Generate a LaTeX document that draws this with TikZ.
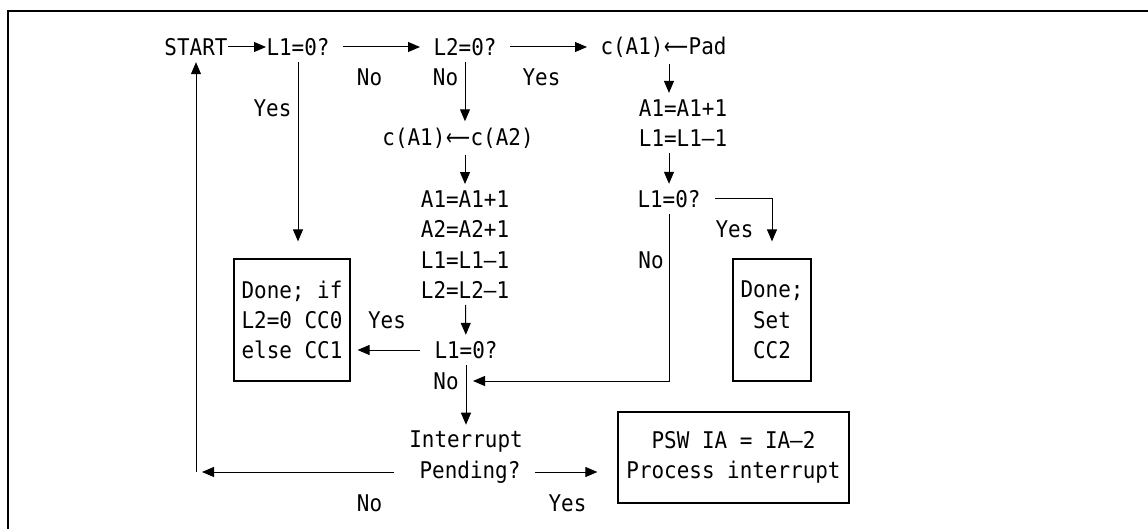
\documentclass[tikz,border=0pt]{standalone}
\usepackage{fontspec}
\usepackage{graphicx}
\usepackage{tikz}
\usetikzlibrary{arrows.meta}
\newfontfamily\flowmono[FakeStretch=0.91]{DejaVu Sans Mono}
\newfontfamily\flowsans{DejaVu Sans}
\newcommand\larr{\makebox[25.2pt][c]{\resizebox{24pt}{\height}{\flowsans ⟵}}}

\begin{document}
\begin{tikzpicture}[x=1pt,y=-1pt,>={Triangle[length=12pt,width=10pt]},
  font=\flowmono\fontsize{23}{30.4}\selectfont,line width=1pt,
  txt/.style={inner xsep=0pt,inner ysep=6pt},
  lbl/.style={inner sep=0pt},
  box/.style={draw,line width=1.2pt,inner sep=0pt,align=center},
  gap/.style={shorten <=13pt,shorten >=13pt}]
\useasboundingbox (0,0) rectangle (1148,529);
% frame, cut at right and bottom
\draw[line width=2pt] (7.5,529)--(7.5,11)--(1148,11);
% steps
\node[txt] (start) at (196,47) {START};
\node[txt] (l1a) at (298,47) {L1=0?};
\node[txt] (l2a) at (465,47) {L2=0?};
\node[txt,anchor=west] (pad) at (600,47) {c(A1)\larr Pad};
\node[txt] (cpy) at (458,138) {c(A1)\larr c(A2)};
\node[txt,align=left] (incb) at (465,244.5) {A1=A1+1\\A2=A2+1\\L1=L1–1\\L2=L2–1};
\node[txt] (l1b) at (466,350) {L1=0?};
\node[txt,align=left] (inca) at (683,123) {A1=A1+1\\L1=L1–1};
\node[txt] (l1c) at (669,199) {L1=0?};
\node[txt] (intr) at (466,442) {Interrupt};
\node[txt] (pend) at (470,472) {Pending?};
% end boxes
\node[box,align=left,minimum width=116pt,minimum height=122pt] (donea) at (292,320) {Done; if\\L2=0 CC0\\else CC1};
\node[box,minimum width=78pt,minimum height=122pt] (doneb) at (772,320) {Done;\\Set\\CC2};
\node[box,minimum width=231pt,minimum height=91pt] (psw) at (733.5,457.5) {PSW IA = IA–2\\Process interrupt};
% branch labels
\node[lbl] (nol1a) at (369.5,77) {No};
\node[lbl] (nol2a) at (445.5,77) {No};
\node[lbl] (yesl2a) at (541.5,77) {Yes};
\node[lbl] (yesl1a) at (272.5,108) {Yes};
\node[lbl] (yesl1b) at (387,320) {Yes};
\node[lbl] (nol1b) at (446,381) {No};
\node[lbl] (nol1c) at (651,260) {No};
\node[lbl] (yesl1c) at (734.5,229) {Yes};
\node[lbl] (noint) at (369.5,503) {No};
\node[lbl] (yesint) at (567.5,503) {Yes};
% connectors
\coordinate (join) at (466,381);
\coordinate (back) at (start |- pend);
\draw[->] (start)--(l1a);
\draw[->,gap] (l1a)--(l2a);
\draw[->,gap] (l2a)--(pad);
\draw[->] (l2a)--(l2a |- cpy.north);
\draw[->] (cpy.south -| incb)--(incb);
\draw[->] (incb)--(l1b);
\draw[->,shorten <=14pt,shorten >=7pt] (l1b.west)--(l1b.west -| donea.east);
\draw[->,shorten >=17pt] (l1a)--(l1a |- donea.north);
\draw[->] (pad.south -| l1c)--(inca.north -| l1c);
\draw[->] (inca.south -| l1c)--(l1c);
\draw[->,shorten <=14pt,shorten >=17pt] (l1c.east)-|(doneb.north);
\draw[->,shorten >=7pt] (l1c)|-(join);
\draw[->] (l1b)--(intr);
\draw[->,shorten <=14pt,shorten >=20pt] (pend)--(pend -| psw.west);
\draw[->,shorten <=25pt,shorten >=6pt] (pend)--(back);
\draw[->] (back)--(start);
\end{tikzpicture}
\end{document}
